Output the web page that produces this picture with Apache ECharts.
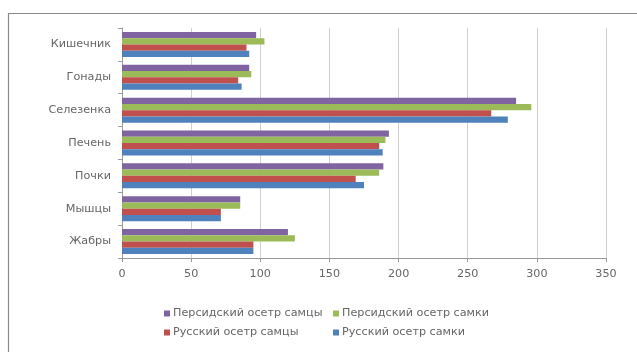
<!DOCTYPE html>
<html>
<head>
<meta charset="utf-8">
<script src="https://cdn.jsdelivr.net/npm/echarts@6/dist/echarts.min.js"></script>
<style>
  html, body { margin: 0; padding: 0; background: #fff; }
  #chart { width: 637px; height: 352px; }
</style>
</head>
<body>
<div id="chart"></div>
<script>
// Organs, listed bottom to top along the category axis
const organs = ['Жабры', 'Мышцы', 'Почки', 'Печень', 'Селезенка', 'Гонады', 'Кишечник'];

// Values per group, same order as organs
const persianMales   = [120, 85.5, 189, 193, 285, 92, 97];
const persianFemales = [125, 85.5, 186, 190.5, 296, 93.5, 103];
const russianMales   = [95, 71.5, 169, 186, 267, 84, 90];
const russianFemales = [95, 71.5, 175, 188.5, 279, 86.5, 92];

const xTicks = [0, 50, 100, 150, 200, 250, 300, 350];

const names = ['Персидский осетр самцы', 'Персидский осетр самки', 'Русский осетр самцы', 'Русский осетр самки'];
const colors = ['#8064A2', '#9BBB59', '#C0504D', '#4F81BD'];
const values = [persianMales, persianFemales, russianMales, russianFemales];

const font = 'DejaVu Sans, sans-serif';
const textColor = '#666666';
const fontSize = 11.2;

// First series sits at the top of each group
const series = names.map((n, i) => ({
  name: n,
  type: 'bar',
  data: values[i],
  itemStyle: { color: colors[i] },
  barGap: '0%',
  barCategoryGap: '24%'
}));

const legendPos = [[164, 308], [333, 308], [164, 327], [333, 327]];
const legends = names.map((n, i) => ({
  data: [n],
  left: legendPos[i][0],
  top: legendPos[i][1],
  orient: 'horizontal',
  itemWidth: 6,
  itemHeight: 6,
  itemGap: 4,
  icon: 'rect',
  textStyle: { fontSize: fontSize, color: textColor, fontFamily: font, padding: [0, 0, 0, -2] },
  padding: 0
}));

const chart = echarts.init(document.getElementById('chart'), null, { renderer: 'canvas' });
chart.setOption({
  animation: false,
  backgroundColor: '#fff',
  graphic: [{
    type: 'rect',
    shape: { x: 8.5, y: 13.5, width: 640, height: 350 },
    style: { fill: 'none', stroke: '#8a8a8a', lineWidth: 1.2 },
    silent: true
  }],
  legend: legends,
  grid: { left: 122, right: 31, top: 28, bottom: 94, containLabel: false },
  xAxis: {
    type: 'value',
    min: xTicks[0],
    max: xTicks[xTicks.length - 1],
    interval: 50,
    axisLine: { show: true, lineStyle: { color: '#9a9a9a' } },
    axisTick: { show: true, length: 4, lineStyle: { color: '#9a9a9a' } },
    axisLabel: { fontSize: fontSize, color: textColor, fontFamily: font, margin: 11 },
    splitLine: { show: true, lineStyle: { color: '#d0d0d0' } }
  },
  yAxis: {
    type: 'category',
    data: organs,
    axisLine: { show: true, lineStyle: { color: '#9a9a9a' } },
    axisTick: { show: true, length: 4, lineStyle: { color: '#9a9a9a' } },
    axisLabel: { fontSize: fontSize, color: textColor, fontFamily: font, margin: 11 }
  },
  series: series
});
</script>
</body>
</html>
